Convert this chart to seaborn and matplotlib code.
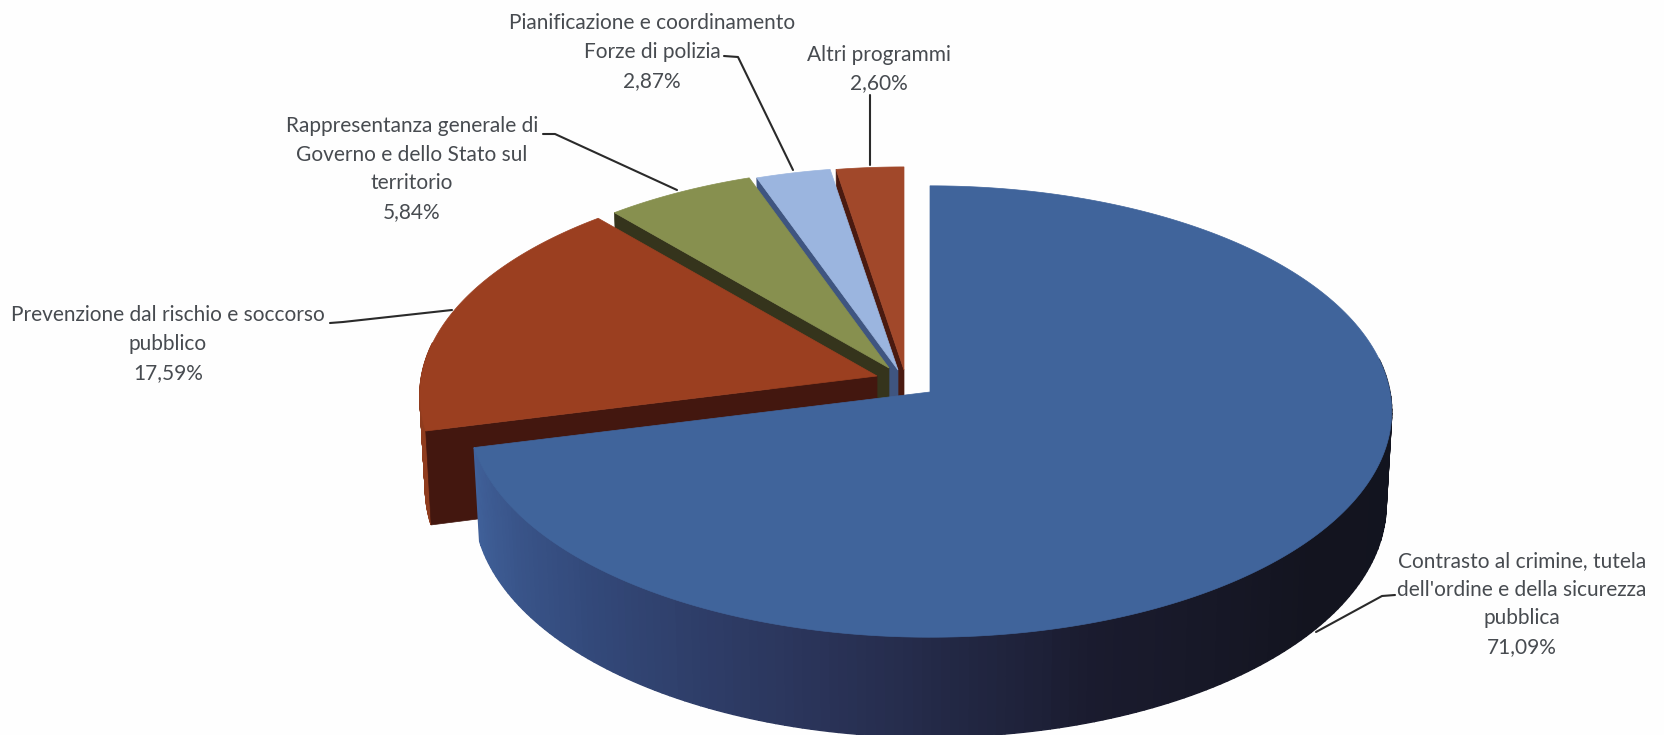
import numpy as np
import seaborn as sns
import matplotlib.pyplot as plt

# values and labels
categories = [
    "Contrasto al crimine, tutela\ndell'ordine e della sicurezza\npubblica",
    "Prevenzione dal rischio e soccorso\npubblico",
    "Rappresentanza generale di\nGoverno e dello Stato sul\nterritorio",
    "Pianificazione e coordinamento\nForze di polizia",
    "Altri programmi",
]
shares = [71.09, 17.59, 5.84, 2.87, 2.60]

# screen position of each slice apex (exploded slices are moved by hand)
apex_x = [930, 877, 889, 898, 904]
apex_y = [392, 376, 368, 370, 370]
slice_scale = [1.0, 0.99, 0.975, 0.985, 0.985]

top_colors = ['#40649b', '#9b3f20', '#87904f', '#9bb5df', '#a1482a']
cut_colors = ['#223655', '#43170f', '#35341c', '#3f5580', '#4a1a10']
wall_colors = [
    ['#12141f', '#12141f', '#12141f', '#12141f', '#13141f', '#1a1b2e', '#2a3358', '#33497a', '#40619a'],
    ['#8f3c1e'], ['#4d5430'], ['#5a6f96'], ['#5f2716'],
]

# text and leader lines
text_x = [1522, 168, 412, 652, 879]
text_y = [604, 344, 169, 52, 69]
leader_x = [[1395, 1382, 1316], [330, 343, 452], [543, 555, 677], [724, 738, 793], [870, 870]]
leader_y = [[595, 596, 632], [323, 322, 310], [134, 134, 190], [56, 57, 170], [95, 165]]

# projection of the pie
RADIUS = 460
HEIGHT = 224
PERSP = 0.0865
DEPTH = 92

sns.set_theme(style="white")
plt.rcParams['font.family'] = ['Lato', 'DejaVu Sans']

fig = plt.figure(figsize=(16.64, 7.35), dpi=100, facecolor='#fefefe')
ax = fig.add_axes([0, 0, 1, 1])
ax.set_xlim(0, 1664)
ax.set_ylim(735, 0)
ax.axis('off')


def project(theta, cx, cy, scale):
    # theta in degrees clockwise from 12 o'clock
    u = np.sin(np.radians(theta))
    v = np.cos(np.radians(theta))
    w = 1 + PERSP * v
    return cx + scale * RADIUS * u / w, cy - scale * HEIGHT * v / w, v


def drop(v):
    return DEPTH - 8 * v


ends = np.cumsum(shares) / sum(shares) * 360
starts = np.r_[0, ends[:-1]]

# back slices first, the big one last
for i in [4, 3, 2, 1, 0]:
    cx, cy = apex_x[i], apex_y[i]
    thetas = np.linspace(starts[i], ends[i], 240)
    px, py, pv = project(thetas, cx, cy, slice_scale[i])

    # outer wall, shaded along the rim (only the part facing us)
    shades = sns.blend_palette(wall_colors[i], 240) if len(wall_colors[i]) > 1 else wall_colors[i] * 240
    for k in range(len(thetas) - 1):
        if pv[k] > 0.15:
            continue
        xs = [px[k], px[k + 1], cx + (px[k + 1] - cx) * 0.988, cx + (px[k] - cx) * 0.988]
        ys = [py[k], py[k + 1], py[k + 1] + drop(pv[k + 1]), py[k] + drop(pv[k])]
        ax.fill(xs, ys, color=shades[k], lw=1.0, zorder=10 + (4 - i) * 10)

    # cut face on the starting edge, the big slice does not show one
    if i > 0:
        ex, ey, ev = project(starts[i], cx, cy, slice_scale[i])
        ax.fill([cx, ex, cx + (ex - cx) * 0.988, cx],
                [cy, ey, ey + drop(ev), cy + DEPTH],
                color=cut_colors[i], lw=0.5, zorder=11 + (4 - i) * 10)

    # top face
    ax.fill(np.r_[cx, px], np.r_[cy, py], color=top_colors[i], lw=0.5, zorder=12 + (4 - i) * 10)

for i, name in enumerate(categories):
    label = name + "\n" + f"{shares[i]:.2f}%".replace('.', ',')
    ax.text(text_x[i], text_y[i], label, ha='center', va='center', fontsize=15.0,
            color='#474b50', linespacing=1.54, zorder=80)
    ax.plot(leader_x[i], leader_y[i], color='#2a2a2a', lw=1.5, zorder=70, solid_capstyle='round')

sns.despine(ax=ax, left=True, bottom=True)
fig.savefig('out.png', dpi=100, facecolor=fig.get_facecolor())
plt.close()
